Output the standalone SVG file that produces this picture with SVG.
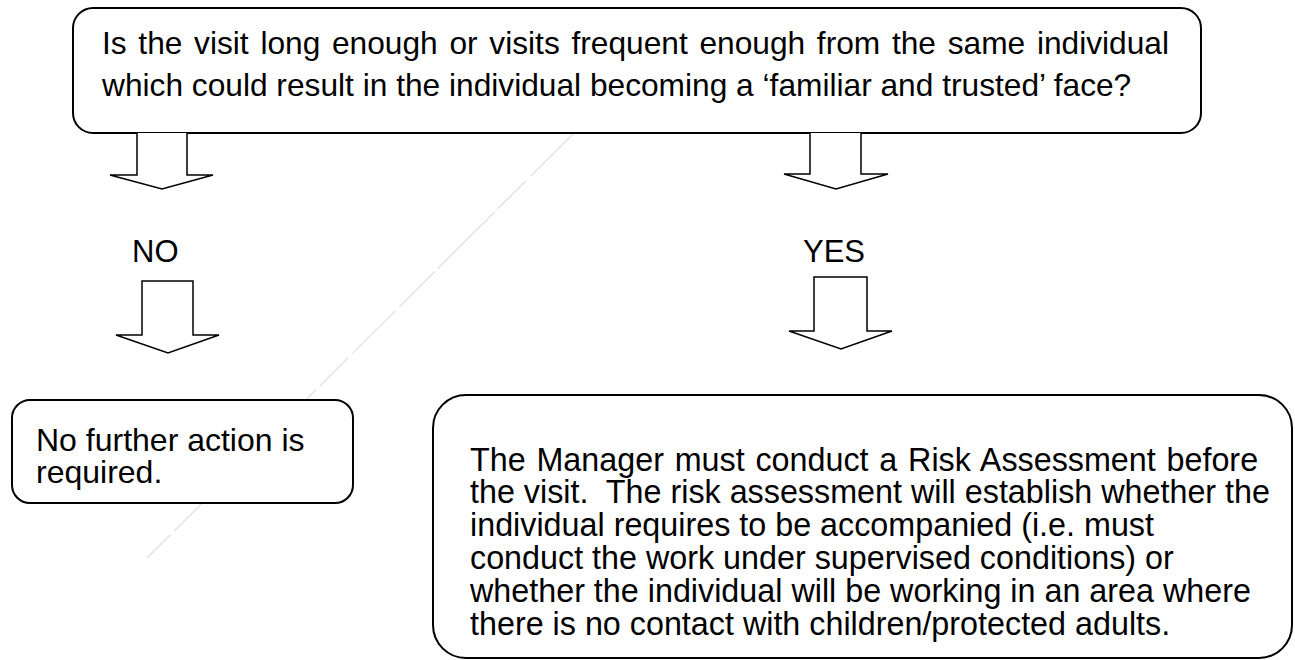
<svg xmlns="http://www.w3.org/2000/svg" width="1295" height="660" viewBox="0 0 1295 660">
<style>
.box{fill:#fff;stroke:#000;stroke-width:2}
.arr{fill:#fff;stroke:#000;stroke-width:1.5;stroke-linejoin:miter}
.t{font-family:"Liberation Sans",Arial,sans-serif;font-size:32px;fill:#000}
.faint{stroke:#dedede;stroke-width:1.2;fill:none}
</style>
<rect width="1295" height="660" fill="#fff"/>
<line class="faint" x1="573" y1="134" x2="147" y2="558" stroke-dasharray="60 6 40 5 80 4 50 6"/>
<g id="question">
<rect class="box" x="73" y="8" width="1128" height="125" rx="20"/>
<text class="t" style="font-size:31.7px">
<tspan x="102" y="54" word-spacing="2.9">Is the visit long enough or visits frequent enough from the same individual</tspan>
<tspan x="102" y="96">which could result in the individual becoming a ‘familiar and trusted’ face?</tspan>
</text>
</g>
<g id="connectors">
<path class="arr" d="M137,133 L137,175 L110,175 L162,189 L213,175 L187,175 L187,133"/>
<path class="arr" d="M810,133 L810,174 L784,174 L836,189 L888,174 L861,174 L861,133"/>
<path class="arr" d="M142,281 L142,335 L116,335 L168,353 L219,335 L193,335 L193,281 Z"/>
<path class="arr" d="M814,277 L814,331 L789,331 L841,349 L892,331 L867,331 L867,277 Z"/>
</g>
<g id="label-no"><text class="t" x="132" y="262" style="font-size:31px">NO</text></g>
<g id="label-yes"><text class="t" x="803" y="262" style="font-size:31px">YES</text></g>
<g id="no-action">
<rect class="box" x="12" y="400" width="341" height="103" rx="18"/>
<text class="t">
<tspan x="36" y="451">No further action is</tspan>
<tspan x="36" y="483">required.</tspan>
</text>
</g>
<g id="risk-assessment">
<rect class="box" x="433" y="395" width="859" height="263" rx="33"/>
<text class="t" style="font-size:32.3px;white-space:pre">
<tspan x="470" y="470.5" word-spacing="1.8">The Manager must conduct a Risk Assessment before</tspan>
<tspan x="470" y="503.3">the visit.  The risk assessment will establish whether the</tspan>
<tspan x="470" y="536.1">individual requires to be accompanied (i.e. must</tspan>
<tspan x="470" y="568.9">conduct the work under supervised conditions) or</tspan>
<tspan x="470" y="601.7">whether the individual will be working in an area where</tspan>
<tspan x="470" y="634.5">there is no contact with children/protected adults.</tspan>
</text>
</g>
</svg>
